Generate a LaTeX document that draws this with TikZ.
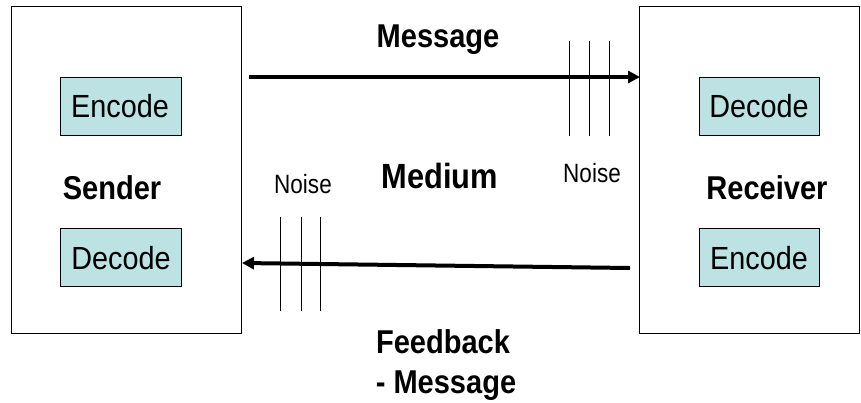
\documentclass[tikz,border=0pt]{standalone}
\usepackage{fontspec}
\setmainfont{Liberation Sans}
\usetikzlibrary{arrows.meta}
\definecolor{boxfill}{RGB}{188,226,228}
\newcommand{\bsq}[1]{\scalebox{0.88}[1]{#1}}
\newcommand{\rsq}[1]{\scalebox{0.9}[1]{#1}}
\newcommand{\nsq}[1]{\scalebox{0.85}[1]{#1}}
\tikzset{
  party/.style={draw=black, line width=0.8pt, fill=white, inner sep=0pt},
  codebox/.style={draw=black, line width=0.8pt, fill=boxfill, inner sep=0pt,
    minimum width=121pt, minimum height=58pt},
  codetext/.style={anchor=base, inner sep=0pt, font=\fontsize{32}{36}\selectfont},
  boldlbl/.style={anchor=base, inner sep=0pt, font=\fontsize{33}{38}\selectfont\bfseries},
  noiselbl/.style={anchor=base, inner sep=0pt, font=\fontsize{26.5}{30}\selectfont},
  flow/.style={line width=4pt, -{Triangle[length=12pt,width=12pt]}},
  noiseline/.style={line width=1pt}
}
\begin{document}
\begin{tikzpicture}[x=1pt,y=-1pt]
\useasboundingbox (0,0) rectangle (861,402);
% parties
\node[party, minimum width=230pt, minimum height=327pt] (S) at (126,169.5) {};
\node[party, minimum width=220pt, minimum height=327pt] (R) at (749,169.5) {};
% code boxes
\node[codebox] (SE) at (121,106) {};
\node[codebox] (SD) at (121,257.5) {};
\node[codebox, minimum width=120pt] (RD) at (759,106) {};
\node[codebox, minimum width=120pt] (RE) at (759,257.5) {};
\node[codetext] (tSE) at (120,117) {\rsq{Encode}};
\node[codetext] (tSD) at (121,269) {\rsq{Decode}};
\node[codetext] (tRD) at (759,117) {\rsq{Decode}};
\node[codetext] (tRE) at (759,269) {\rsq{Encode}};
% party labels
\node[boldlbl] (tS) at (112,199) {\bsq{Sender}};
\node[boldlbl] (tR) at (767,199) {\bsq{Receiver}};
% arrows
\coordinate (m0) at (249,77);
\coordinate (m1) at (640,77);
\draw[flow] (m0) -- (m1);
\coordinate (f0) at (630,268);
\coordinate (f1) at (242,263);
\draw[flow] (f0) -- (f1);
% noise lines upper
\foreach \x [count=\i] in {569,589,609} {
  \coordinate (nu\i a) at (\x,41);
  \coordinate (nu\i b) at (\x,136);
  \draw[noiseline] (nu\i a) -- (nu\i b);
}
% noise lines lower
\foreach \x [count=\i] in {280,301,320} {
  \coordinate (nl\i a) at (\x,217);
  \coordinate (nl\i b) at (\x,311);
  \draw[noiseline] (nl\i a) -- (nl\i b);
}
% labels
\node[boldlbl] (tMsg) at (438,47) {\bsq{Message}};
\node[boldlbl, font=\fontsize{35}{40}\selectfont\bfseries] (tMed) at (440,188) {\bsq{Medium}};
\node[noiselbl] (tN1) at (303,193) {\nsq{Noise}};
\node[noiselbl] (tN2) at (592,182) {\nsq{Noise}};
\node[boldlbl] (tFb) at (443,353) {\bsq{Feedback}};
\node[boldlbl] (tFm) at (446,393) {\bsq{- Message}};
\end{tikzpicture}
\end{document}
